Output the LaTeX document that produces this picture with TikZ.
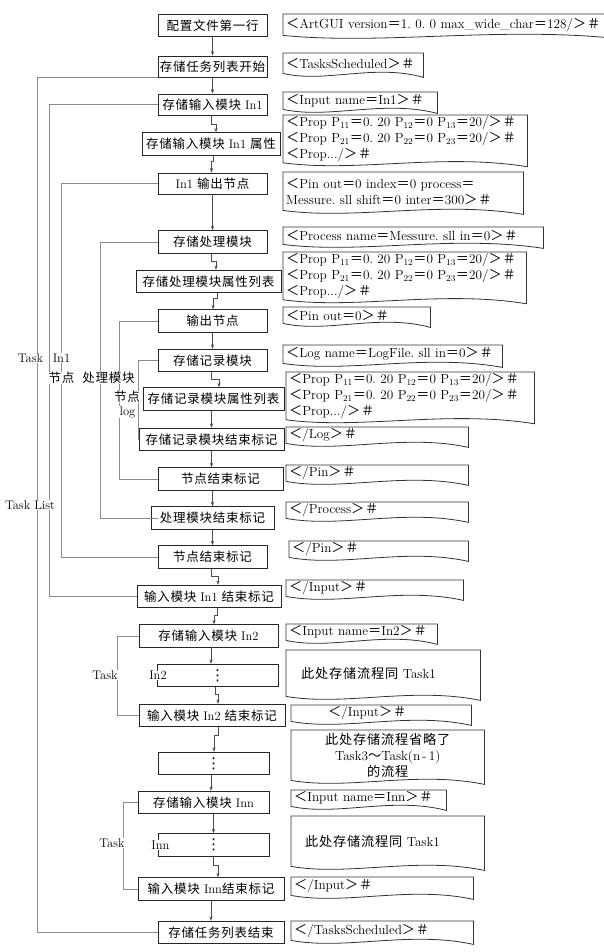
\documentclass[tikz,border=0pt]{standalone}
\usepackage{fontspec}
\newfontfamily\cjk[LetterSpace=6]{Noto Sans CJK SC}
\newfontfamily\dotsfont{DejaVu Sans}
\usetikzlibrary{calc,arrows.meta}

\newcommand\zh[1]{{\cjk #1}}
\newcommand\lsym{\zh{＜}}
\newcommand\rsym{\zh{＞}}
\newcommand\esym{\zh{＝}}
\newcommand\hsym{\zh{＃}}
\newcommand\vdotsign{{\dotsfont\fontsize{15}{15}\selectfont ⋮}}
\newcommand\boxfont{\fontsize{12.5}{16}\selectfont\frenchspacing}
\newcommand\docfont{\fontsize{13.2}{16}\selectfont\frenchspacing}
\newcommand\proplist{\lsym Prop P$_{11}$\esym 0. 20 P$_{12}$\esym 0 P$_{13}$\esym 20/\rsym\hsym\\
  \lsym Prop P$_{21}$\esym 0. 20 P$_{22}$\esym 0 P$_{23}$\esym 20/\rsym\hsym\\
  \lsym Prop.../\rsym\hsym}
\def\docshape(#1){\draw[docline] (#1.south west) -- (#1.north west) -- (#1.north east) -- ($(#1.south east)+(0,4)$) .. controls ($(#1.south west)!0.65!(#1.south east)+(0,-10)$) and ($(#1.south west)!0.3!(#1.south east)+(0,10)$) .. (#1.south west);}

\tikzset{
  flowbox/.style={draw=black!85, line width=0.8pt, inner sep=1pt, minimum height=22.5pt, font=\boxfont},
  docnode/.style={anchor=north west, inner xsep=3pt, inner ysep=1pt, align=left, font=\docfont},
  docline/.style={draw=black!80, line width=0.8pt},
  flow/.style={draw=black!70, line width=0.7pt, -{Stealth[length=4.5pt,width=3.2pt]}},
  bracket/.style={draw=black!45, line width=0.7pt},
  lbl/.style={fill=white, inner sep=0.6pt, font=\boxfont}
}

\begin{document}
\begin{tikzpicture}[x=1pt,y=-1pt]
	\path[use as bounding box, fill=white] (0,0) rectangle (604,952);
	
	% columns of the brackets
	\coordinate (xList) at (37,0);
	\coordinate (xTask) at (49,0);
	\coordinate (xPin) at (61,0);
	\coordinate (xProc) at (100,0);
	\coordinate (xPinB) at (119,0);
	\coordinate (xTaskB) at (117,0);
	\coordinate (xTaskN) at (123,0);
	
	% flow boxes
	\node[flowbox, minimum width=109pt] (b1) at (212.5,25.5) {\zh{配置文件第一行}};
	\node[flowbox, minimum width=109pt, minimum height=21pt] (b2) at (212.5,66.5) {\zh{存储任务列表开始}};
	\node[flowbox, minimum width=109pt, minimum height=21pt] (b3) at (212.5,104.5) {\zh{存储输入模块} In1};
	\node[flowbox, minimum width=138pt] (b4) at (211,144) {\zh{存储输入模块} In1 \zh{属性}};
	\node[flowbox, minimum width=109pt, minimum height=21pt] (b5) at (212.5,183.5) {In1 \zh{输出节点}};
	\node[flowbox, minimum width=109pt] (b6) at (212.5,242) {\zh{存储处理模块}};
	\node[flowbox, minimum width=145pt] (b7) at (208.5,281.5) {\zh{存储处理模块属性列表}};
	\node[flowbox, minimum width=109pt] (b8) at (212.5,321) {\zh{输出节点}};
	\node[flowbox, minimum width=109pt] (b9) at (212.5,360.5) {\zh{存储记录模块}};
	\node[flowbox, minimum width=141pt] (b10) at (213.5,399) {\zh{存储记录模块属性列表}};
	\node[flowbox, minimum width=145pt] (b11) at (211.5,439.5) {\zh{存储记录模块结束标记}};
	\node[flowbox, minimum width=125pt] (b12) at (220.5,479) {\zh{节点结束标记}};
	\node[flowbox, minimum width=123pt] (b13) at (212.5,518) {\zh{处理模块结束标记}};
	\node[flowbox, minimum width=109pt] (b14) at (212.5,557) {\zh{节点结束标记}};
	\node[flowbox, minimum width=144pt] (b15) at (209,596.5) {\zh{输入模块} In1 \zh{结束标记}};
	\node[flowbox, minimum width=139pt] (b16) at (208.5,636) {\zh{存储输入模块} In2};
	\node[flowbox, minimum width=121pt] (b17) at (217.5,675.5) {\vdotsign};
	\node[flowbox, minimum width=146pt] (b18) at (212,715.5) {\zh{输入模块} In2 \zh{结束标记}};
	\node[flowbox, minimum width=111pt] (b19) at (213.5,763.5) {\vdotsign};
	\node[flowbox, minimum width=131pt] (b20) at (203.5,802.5) {\zh{存储输入模块} Inn};
	\node[flowbox, minimum width=111pt] (b21) at (213.5,845) {\vdotsign};
	\node[flowbox, minimum width=146pt] (b22) at (211,889) {\zh{输入模块} Inn\zh{结束标记}};
	\node[flowbox, minimum width=126pt] (b23) at (221,932.5) {\zh{存储任务列表结束}};
	
	% file lines
	\node[docnode, text width=335pt, minimum height=21pt] (r1) at (283,14) {\lsym ArtGUI version\esym 1. 0. 0 max\_wide\_char\esym 128/\rsym\hsym};
	\docshape(r1)
	\node[docnode, text width=134pt, minimum height=20pt] (r2) at (283,53) {\lsym TasksScheduled\rsym\hsym};
	\docshape(r2)
	\node[docnode, text width=148pt, minimum height=17pt] (r3) at (283,92) {\lsym Input name\esym In1\rsym\hsym};
	\docshape(r3)
	\node[docnode, text width=238pt, minimum height=43pt] (r4) at (283,115) {\proplist};
	\docshape(r4)
	\node[docnode, text width=234pt, minimum height=38pt] (r5) at (283,172) {\lsym Pin out\esym 0 index\esym 0 process\esym\\Messure. sll shift\esym 0 inter\esym 300\rsym\hsym};
	\docshape(r5)
	\node[docnode, text width=254pt, minimum height=17pt] (r6) at (283,227) {\lsym Process name\esym Messure. sll in\esym 0\rsym\hsym};
	\docshape(r6)
	\node[docnode, text width=237pt, minimum height=43pt] (r7) at (283,252) {\proplist};
	\docshape(r7)
	\node[docnode, text width=141pt, minimum height=16pt] (r8) at (283,307) {\lsym Pin out\esym 0\rsym\hsym};
	\docshape(r8)
	\node[docnode, text width=213pt, minimum height=18pt] (r9) at (283,345) {\lsym Log name\esym LogFile. sll in\esym 0\rsym\hsym};
	\docshape(r9)
	\node[docnode, text width=242pt, minimum height=42pt] (r10) at (286,372) {\proplist};
	\docshape(r10)
	\node[docnode, text width=176pt, minimum height=16pt] (r11) at (286,427) {\lsym/Log\rsym\hsym};
	\docshape(r11)
	\node[docnode, text width=176pt, minimum height=16pt] (r12) at (286,465) {\lsym/Pin\rsym\hsym};
	\docshape(r12)
	\node[docnode, text width=176pt, minimum height=16pt] (r13) at (286,502) {\lsym/Process\rsym\hsym};
	\docshape(r13)
	\node[docnode, text width=173pt, minimum height=16pt] (r14) at (289,541) {\lsym/Pin\rsym\hsym};
	\docshape(r14)
	\node[docnode, text width=171pt, minimum height=16pt] (r15) at (286,580) {\lsym/Input\rsym\hsym};
	\docshape(r15)
	\node[docnode, text width=145pt, minimum height=16pt] (r16) at (286,624) {\lsym Input name\esym In2\rsym\hsym};
	\docshape(r16)
	\node[docnode, text width=188pt, minimum height=46pt] (r17) at (286,650) {\hspace*{12pt}\zh{此处存储流程同} Task1};
	\docshape(r17)
	\node[docnode, text width=174pt, minimum height=16pt] (r18) at (291,705) {\hspace*{34pt}\lsym/Input\rsym\hsym};
	\docshape(r18)
	\node[docnode, align=center, text width=187pt, minimum height=50pt] (r19) at (291,730) {\zh{此处存储流程省略了}\\Task3\zh{～}Task(n\,-\,1)\\\zh{的流程}};
	\docshape(r19)
	\node[docnode, text width=149pt, minimum height=16pt] (r20) at (291,790) {\lsym Input name\esym Inn\rsym\hsym};
	\docshape(r20)
	\node[docnode, text width=187pt, minimum height=50pt] (r21) at (291,816) {\hspace*{11pt}\zh{此处存储流程同} Task1};
	\docshape(r21)
	\node[docnode, text width=176pt, minimum height=18pt] (r22) at (291,877) {\lsym/Input\rsym\hsym};
	\docshape(r22)
	\node[docnode, text width=176pt, minimum height=19pt] (r23) at (291,921) {\lsym/TasksScheduled\rsym\hsym};
	\docshape(r23)
	
	% flow arrows
	\draw[flow] (b1.south) -- (b2.north);
	\draw[flow] (b2.south) -- (b3.north);
	\draw[flow] ([xshift=-1]b3.south) -- ++(0,9) -| ([xshift=5]b4.north);
	\draw[flow] ([xshift=2]b4.south) -- ++(0,6) -| ([xshift=-1]b5.north);
	\draw[flow] (b5.south) -- (b6.north);
	\draw[flow] ([xshift=-1]b6.south) -- ++(0,8) -| ([xshift=7.5]b7.north);
	\draw[flow] ([xshift=8.5]b7.south) -- ++(0,5) -| ([xshift=0.5]b8.north);
	\draw[flow] (b8.south) -- (b9.north);
	\draw[flow] ([xshift=-1]b9.south) -- ++(0,7) -| ([xshift=5.5]b10.north);
	\draw[flow] ([xshift=-2]b10.south) coordinate (s10) -- (s10 |- b11.north);
	\draw[flow] (b11.south) -- (b11.south |- b12.north);
	\draw[flow] (b13.north |- b12.south) -- (b13.north);
	\draw[flow] (b13.south) -- (b14.north);
	\draw[flow] ([xshift=-1]b14.south) -- ++(0,8) -| ([xshift=9]b15.north);
	\draw[flow] ([xshift=8]b15.south) -- ++(0,7) -| ([xshift=5.5]b16.north);
	\draw[flow] ([xshift=2.5]b16.south) coordinate (s16) -- (s16 |- b17.north);
	\draw[flow] ([xshift=-2.5]b17.south) -- ++(0,7) -| ([xshift=6]b18.north);
	\draw[flow] ([xshift=6]b18.south) -- ++(0,8) -| ([xshift=0.5]b19.north);
	\draw[flow] ([xshift=-2.5]b19.south) coordinate (s19) -- (s19 |- b20.north);
	\draw[flow] (b21.north |- b20.south) -- (b21.north);
	\draw[flow] ([xshift=-0.5]b21.south) -- ++(0,9) -| ([xshift=7]b22.north);
	\draw[flow] (b22.south) -- (b22.south |- b23.north);
	
	% brackets on the left
	\draw[bracket] (b2.south west) -| (xList |- b23.west) -- (b23.west);
	\draw[bracket] (b3.west) -| (xTask |- b15.west) -- (b15.west);
	\draw[bracket] (b5.west) -| (xPin |- b14.west) -- (b14.west);
	\draw[bracket] (b6.west) -| (xProc |- b13.west) -- ([xshift=7]b13.west);
	\draw[bracket] (b8.west) -| (xPinB |- b12.west) -- (b12.west);
	\draw[bracket] (b9.west) -| (b11.west);
	\draw[bracket] (b16.west) -| (xTaskB |- b18.west) -- (b18.west);
	\draw[bracket] (b20.west) -| (xTaskN |- b22.west) -- (b22.west);
	
	% labels
	\node[lbl] (lTaskA) at (30.5,358) {Task};
	\node[lbl] (lInA) at (61.5,358) {In1};
	\node[lbl] (lPinA) at (61.5,378) {\zh{节点}};
	\node[lbl] (lProc) at (108.5,378) {\zh{处理模块}};
	\node[lbl] (lPinB) at (127,397) {\zh{节点}};
	\node[lbl] (lLog) at (127.5,412) {log};
	\node[lbl] (lList) at (30,505) {Task List};
	\node[lbl] (lTaskB) at (105,675) {Task};
	\node[lbl] (lTaskN) at (112,843) {Task};
	\node[lbl] (lInB) at (158,675.5) {In2};
	\node[lbl] (lInN) at (160.5,845) {Inn};
\end{tikzpicture}
\end{document}
